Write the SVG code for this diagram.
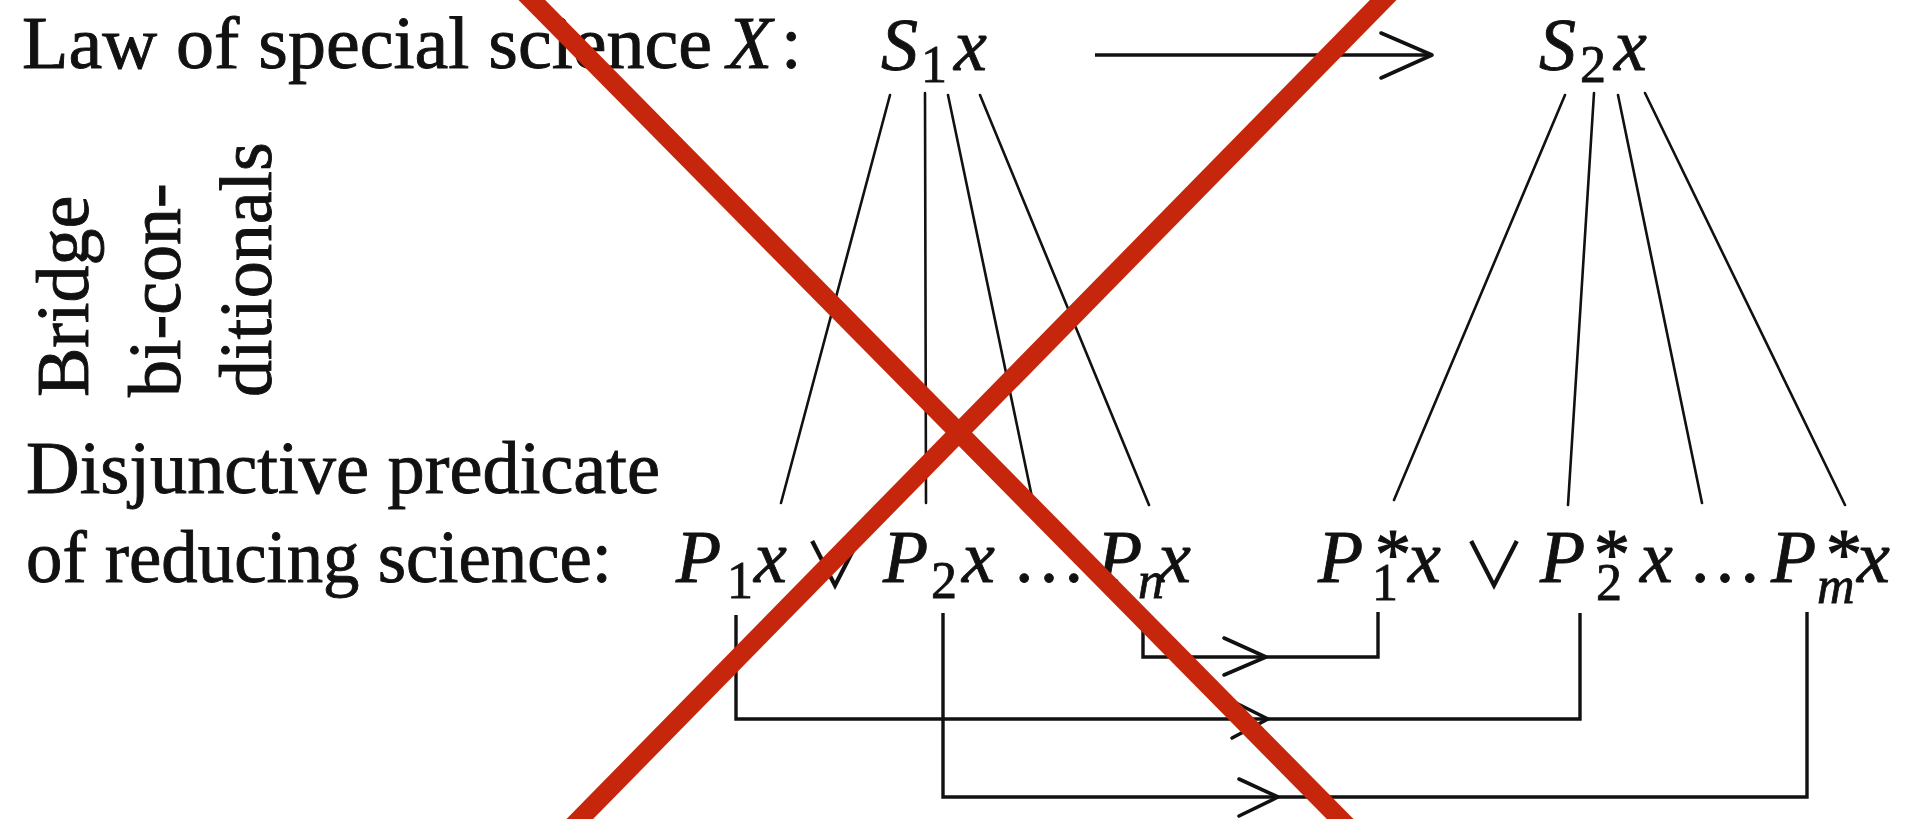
<svg xmlns="http://www.w3.org/2000/svg" width="1908" height="819" viewBox="0 0 1908 819">
<style>
.t{font-family:"Liberation Serif","Times New Roman",serif;font-size:74px;fill:#111;stroke:#111;stroke-width:0.9}
.i{font-style:italic}
.sub{font-family:"Liberation Serif","Times New Roman",serif;font-size:52px;fill:#111;stroke:#111;stroke-width:0.8}
.star{font-family:"Liberation Serif","Times New Roman",serif;font-size:72px;fill:#111;stroke:#111;stroke-width:1.2}
.or{font-family:"Noto Sans CJK JP","DejaVu Serif",serif;font-size:64px;font-weight:400;fill:#111}
.ln{fill:none;stroke:#111;stroke-width:2.6;stroke-linecap:round}
.cn{fill:none;stroke:#111;stroke-width:3.4;stroke-linejoin:miter}
.ah{fill:none;stroke:#111;stroke-width:3.6;stroke-linecap:round;stroke-linejoin:round}
.red{stroke:#C6260B;stroke-width:19;stroke-linecap:butt}
</style>
<rect width="1908" height="819" fill="#fff"/>
<g id="label-law">
<text class="t" x="22" y="68" textLength="690" lengthAdjust="spacingAndGlyphs">Law of special science</text>
<text class="t i" x="727" y="68">X</text>
<text class="t" x="781" y="68">:</text>
</g>
<g id="label-bridge">
<text class="t" transform="translate(88,397) rotate(-90)">Bridge</text>
<text class="t" transform="translate(180,397) rotate(-90)">bi-con-</text>
<text class="t" transform="translate(271,397) rotate(-90)">ditionals</text>
</g>
<g id="label-disj">
<text class="t" x="26" y="493" textLength="634" lengthAdjust="spacingAndGlyphs">Disjunctive predicate</text>
<text class="t" x="26" y="582" textLength="586" lengthAdjust="spacingAndGlyphs">of reducing science:</text>
</g>
<g id="node-S1x">
<text class="t i" x="881" y="70">S</text>
<text class="sub" x="921" y="82">1</text>
<text class="t i" x="954" y="70">x</text>
</g>
<g id="node-S2x">
<text class="t i" x="1539" y="70">S</text>
<text class="sub" x="1580" y="82">2</text>
<text class="t i" x="1614" y="70">x</text>
</g>
<g id="node-P-disj">
<text class="t i" x="676" y="582">P</text>
<text class="sub" x="727" y="598">1</text>
<text class="t i" x="754" y="582">x</text>
<text class="or" x="803" y="588">∨</text>
<text class="t i" x="883" y="582">P</text>
<text class="sub" x="931" y="598">2</text>
<text class="t i" x="962" y="582">x</text>
<text class="t" x="1012" y="582">…</text>
<text class="t i" x="1097" y="582">P</text>
<text class="sub i" x="1138" y="598">n</text>
<text class="t i" x="1158" y="582">x</text>
</g>
<g id="node-Pstar-disj">
<text class="t i" x="1318" y="582">P</text>
<text class="star" x="1375" y="578">*</text>
<text class="sub" x="1372" y="600">1</text>
<text class="t i" x="1408" y="582">x</text>
<text class="or" x="1462" y="588">∨</text>
<text class="t i" x="1540" y="582">P</text>
<text class="star" x="1594" y="578">*</text>
<text class="sub" x="1596" y="600">2</text>
<text class="t i" x="1640" y="582">x</text>
<text class="t" x="1688" y="582">…</text>
<text class="t i" x="1771" y="582">P</text>
<text class="star" x="1826" y="578">*</text>
<text class="sub i" x="1817" y="603">m</text>
<text class="t i" x="1857" y="582">x</text>
</g>
<g id="connectors">
<path class="cn" d="M1095,55 H1430"/>
<polyline class="ah" points="1381,33 1432,55 1381,78"/>
<path class="ln" d="M890,95 L781,503"/>
<path class="ln" d="M925,93 L926,503"/>
<path class="ln" d="M948,95 L1033,502"/>
<path class="ln" d="M980,95 L1149,505"/>
<path class="ln" d="M1565,95 L1394,500"/>
<path class="ln" d="M1594,93 L1568,505"/>
<path class="ln" d="M1618,95 L1702,503"/>
<path class="ln" d="M1645,93 L1845,505"/>
<path class="cn" d="M1143,610 V657 H1378 V612"/>
<polyline class="ah" points="1224,638 1266,657 1224,675"/>
<path class="cn" d="M736,615 V719 H1580 V613"/>
<polyline class="ah" points="1232,701 1268,719 1232,738"/>
<path class="cn" d="M943,613 V797 H1807 V612"/>
<polyline class="ah" points="1239,779 1278,797 1239,816"/>
</g>
<g id="overlay">
<line class="red" x1="522" y1="-10" x2="1350" y2="829"/>
<line class="red" x1="1393" y1="-10" x2="570" y2="829"/>
</g>
</svg>
